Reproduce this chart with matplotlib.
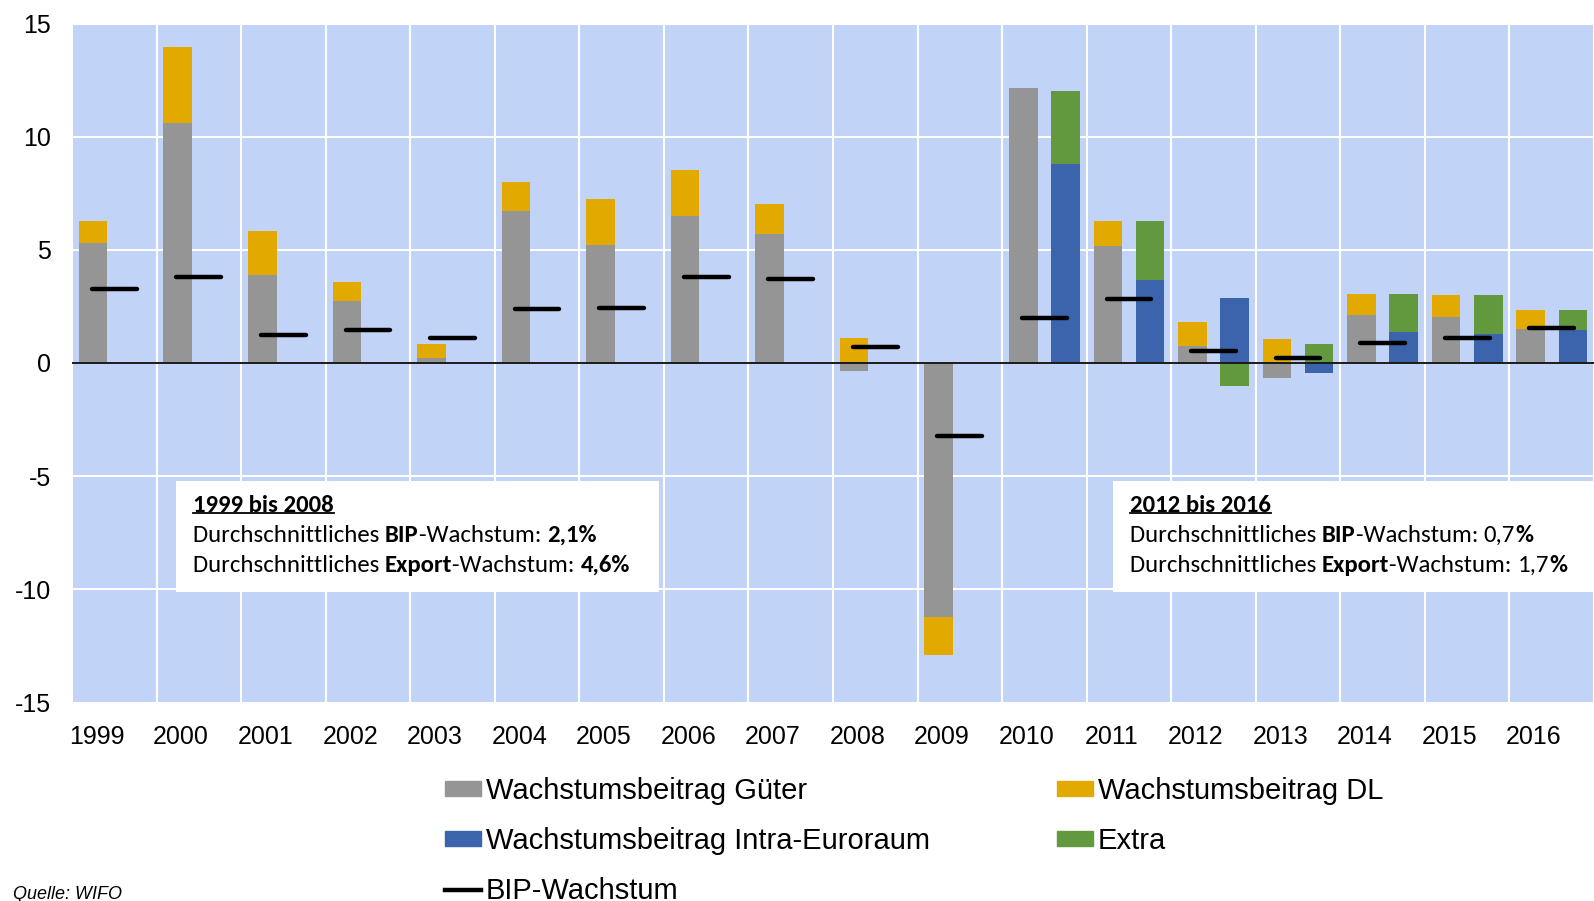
"""Export contributions vs. GDP growth chart (WIFO)."""

import matplotlib
matplotlib.use("Agg")
import matplotlib.pyplot as plt
import numpy as np
from matplotlib import font_manager
from matplotlib.lines import Line2D
from matplotlib.patches import Patch, Rectangle

years = [str(y) for y in range(1999, 2017)]
gueter = [5.29, 10.6, 3.88, 2.76, 0.24, 6.72, 5.22, 6.5, 5.68, -0.37,
          -11.23, 12.17, 5.16, 0.75, -0.65, 2.12, 2.03, 1.5]
dl = [0.99, 3.36, 1.96, 0.83, 0.58, 1.27, 2.03, 2.01, 1.35, 1.12,
      -1.66, 0.0, 1.13, 1.06, 1.07, 0.95, 0.98, 0.84]
intra = [np.nan] * 11 + [8.81, 3.68, 2.85, -0.43, 1.37, 1.28, 1.46]
extra = [np.nan] * 11 + [3.2, 2.61, -1.01, 0.85, 1.70, 1.73, 0.88]
bip = [3.26, 3.78, 1.25, 1.47, 1.09, 2.37, 2.44, 3.78, 3.71, 0.72,
       -3.23, 1.99, 2.82, 0.51, 0.22, 0.88, 1.10, 1.56]

C_GUETER = "#959595"
C_DL = "#E2AA00"
C_INTRA = "#3B64AD"
C_EXTRA = "#62993E"
C_BG = "#C1D3F7"

names = {f.name for f in font_manager.fontManager.ttflist}
NARROW = "Liberation Sans Narrow" in names
SANS = "Liberation Sans Narrow" if NARROW else "Liberation Sans"
BOX_FONT = "Carlito" if "Carlito" in names else "Lato"
TICK_FS = 21.5 if NARROW else 18
LEG_FS = 25 if NARROW else 21
plt.rcParams["font.family"] = [SANS, "DejaVu Sans"]
plt.rcParams["axes.unicode_minus"] = False

fig = plt.figure(figsize=(15.94, 9.01), dpi=100)
ax = fig.add_axes([72 / 1594, 1 - 702.5 / 901, 1522 / 1594, 679 / 901])
ax.set_facecolor(C_BG)
for s in ax.spines.values():
    s.set_visible(False)

x = np.arange(len(years))
width = 0.3375


def stacked(xpos, series, colors):
    pos = np.zeros(len(xpos))
    neg = np.zeros(len(xpos))
    for vals, c in zip(series, colors):
        v = np.array(vals, dtype=float)
        ok = ~np.isnan(v)
        v0 = np.nan_to_num(v)
        bottom = np.where(v0 >= 0, pos, neg)
        ax.bar(xpos[ok], v0[ok], width, bottom=bottom[ok], color=c,
               linewidth=0, zorder=2)
        pos += np.clip(v0, 0, None)
        neg += np.clip(v0, None, 0)


stacked(x - 0.25, [gueter, dl], [C_GUETER, C_DL])
stacked(x + 0.25, [intra, extra], [C_INTRA, C_EXTRA])

lc = ax.hlines(bip, x - 0.265, x + 0.265, color="black", lw=3.2, zorder=4)
lc.set_capstyle("round")

ax.axhline(0, color="#1a1a1a", lw=1.4, zorder=3)

ax.set_ylim(-15, 15)
ax.set_xlim(-0.5, -0.5 + 1522 / 85.45)
ax.set_yticks(np.arange(-15, 16, 5))
ax.set_xticks(x - 0.21, years)
ax.set_xticks(np.arange(-0.5, len(years)), minor=True)
ax.grid(axis="y", which="major", color="white", lw=1.5, zorder=0)
ax.grid(axis="x", which="minor", color="white", lw=1.5, zorder=0)
ax.set_axisbelow(True)
ax.tick_params(which="both", length=0, labelsize=TICK_FS)
ax.tick_params(axis="y", pad=15)
ax.tick_params(axis="x", pad=16)


def rich_line(x0, y0, parts, fs):
    prev = None
    for txt, bold in parts:
        kw = dict(fontsize=fs, family=BOX_FONT,
                  fontweight="bold" if bold else "normal",
                  va="center", ha="left", zorder=6)
        if prev is None:
            prev = ax.text(x0, y0, txt, transform=ax.transAxes, **kw)
        else:
            prev = ax.annotate(txt, xy=(1, 0.5), xycoords=prev, **kw)
    return prev


BOX_FS = 17.8
boxes = [
    (176, 659, 193, "1999 bis 2008",
     [("Durchschnittliches ", False), ("BIP", True), ("-Wachstum: ", False), ("2,1%", True)],
     [("Durchschnittliches ", False), ("Export", True), ("-Wachstum: ", False), ("4,6%", True)]),
    (1113, 1600, 1130, "2012 bis 2016",
     [("Durchschnittliches ", False), ("BIP", True), ("-Wachstum: ", False), ("0,7", False), ("%", True)],
     [("Durchschnittliches ", False), ("Export", True), ("-Wachstum: ", False), ("1,7", False), ("%", True)]),
]
titles = []
for left, right, tx, title, l1, l2 in boxes:
    bx0 = (left - 72) / 1522
    bx1 = (right - 72) / 1522
    by1 = (702.5 - 481) / 679
    by0 = (702.5 - 592) / 679
    ax.add_patch(Rectangle((bx0, by0), bx1 - bx0, by1 - by0, transform=ax.transAxes,
                           facecolor="white", edgecolor="none", zorder=5, clip_on=False))
    xt = (tx - 72) / 1522
    t = ax.text(xt, (702.5 - 505) / 679, title, transform=ax.transAxes, fontsize=BOX_FS,
                family=BOX_FONT, fontweight="bold", va="center", ha="left", zorder=6)
    titles.append(t)
    rich_line(xt, (702.5 - 535) / 679, l1, BOX_FS)
    rich_line(xt, (702.5 - 565) / 679, l2, BOX_FS)

# underline the box titles
fig.canvas.draw()
inv = fig.transFigure.inverted()
for t in titles:
    bb = t.get_window_extent()
    (x0, y0), (x1, _) = inv.transform([(bb.x0, bb.y0 + 3), (bb.x1, bb.y0 + 3)])
    fig.add_artist(Line2D([x0, x1], [y0, y0], color="black", lw=1.3, zorder=7))

leg_kw = dict(frameon=False, loc="upper left", fontsize=LEG_FS, borderpad=0,
              borderaxespad=0, handlelength=1.24, handleheight=0.43,
              handletextpad=0.15, labelspacing=0.75)
h1 = [Patch(color=C_GUETER, label="Wachstumsbeitrag Güter"),
      Patch(color=C_INTRA, label="Wachstumsbeitrag Intra-Euroraum"),
      Line2D([], [], color="black", lw=3.2, label="BIP-Wachstum")]
h2 = [Patch(color=C_DL, label="Wachstumsbeitrag DL"),
      Patch(color=C_EXTRA, label="Extra")]
fig.legend(handles=h1, bbox_to_anchor=(445 / 1594, 1 - 777 / 901), **leg_kw)
fig.legend(handles=h2, bbox_to_anchor=(1057 / 1594, 1 - 777 / 901), **leg_kw)

fig.text(13 / 1594, 1 - 886 / 901, "Quelle: WIFO", fontsize=15 if NARROW else 13,
         style="italic", va="top", ha="left")

fig.savefig("out.png", dpi=100)
plt.close(fig)
